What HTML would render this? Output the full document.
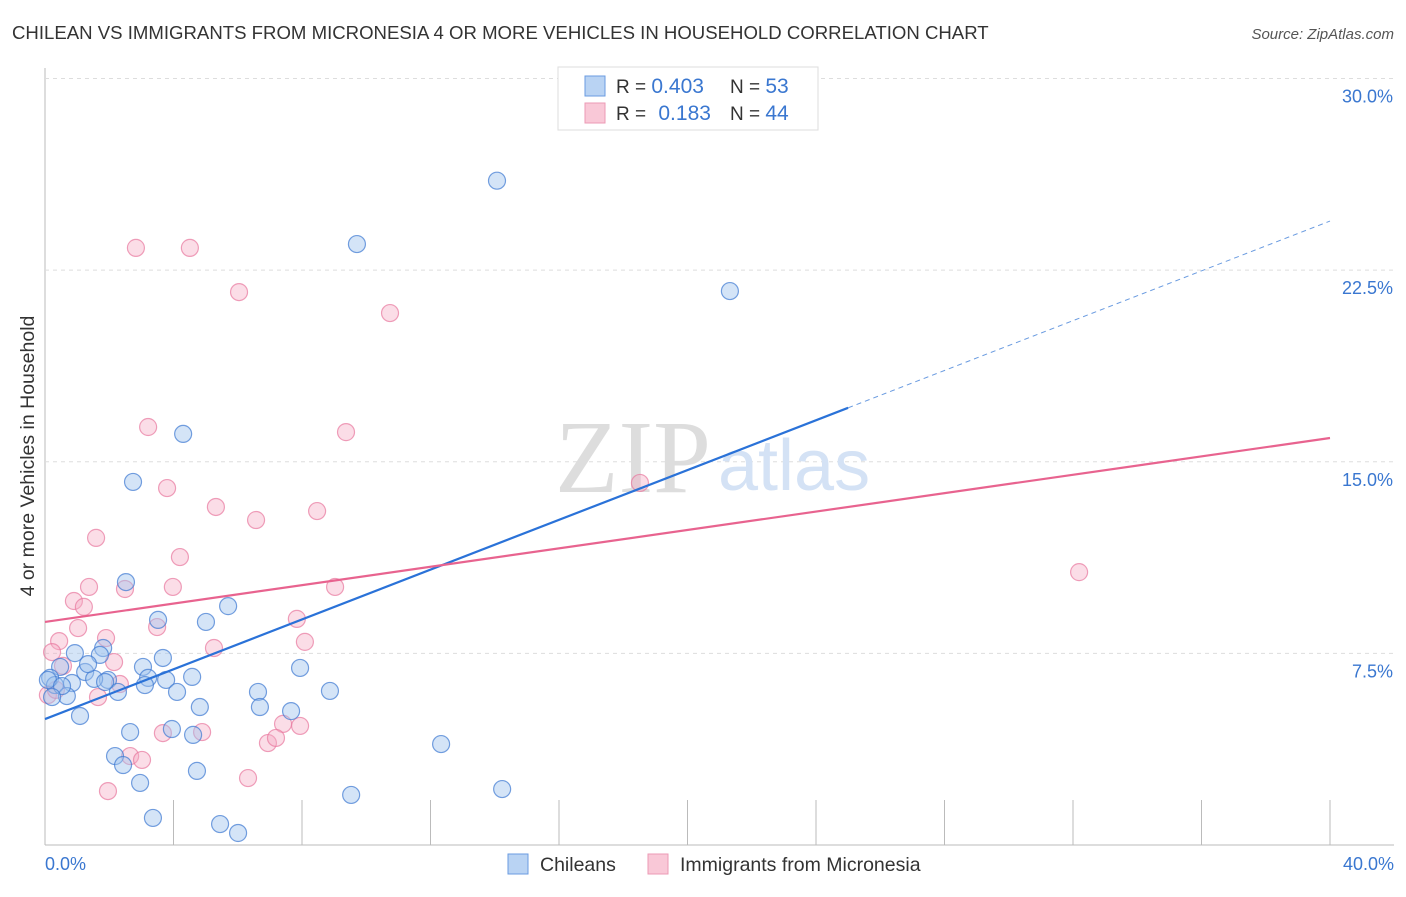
<!DOCTYPE html>
<html><head><meta charset="utf-8"><style>
body{margin:0;background:#fff;font-family:"Liberation Sans",sans-serif;}
</style></head><body>
<svg width="1406" height="892" xmlns="http://www.w3.org/2000/svg">
<text x="12" y="39" font-size="18.6" fill="#333">CHILEAN VS IMMIGRANTS FROM MICRONESIA 4 OR MORE VEHICLES IN HOUSEHOLD CORRELATION CHART</text>
<text x="1394" y="39" font-size="15" fill="#555" font-style="italic" text-anchor="end">Source: ZipAtlas.com</text>
<g id="grid"></g>
<text x="555" y="492" font-size="104" fill="#ddd" font-family="Liberation Serif,serif">ZIP</text>
<text x="718" y="490" font-size="72" fill="#d4e2f5">atlas</text>
<g id="pts"></g>
<g id="lines"></g>
<text x="34" y="456" font-size="19.5" fill="#333" text-anchor="middle" transform="rotate(-90 34 456)">4 or more Vehicles in Household</text>
<g>
<rect x="558" y="67" width="260" height="63" fill="#fff" stroke="#ddd"/>
<rect x="585" y="76" width="20" height="20" fill="#b9d3f3" stroke="#6a9be0"/>
<rect x="585" y="103" width="20" height="20" fill="#f9c8d7" stroke="#ec9ab4"/>
<text x="616" y="93" font-size="19" fill="#333">R = <tspan fill="#3a77d0" font-size="21">0.403</tspan></text>
<text x="730" y="93" font-size="19" fill="#333">N = <tspan fill="#3a77d0" font-size="21">53</tspan></text>
<text x="616" y="120" font-size="19" fill="#333">R = <tspan fill="#3a77d0" dx="7" font-size="21">0.183</tspan></text>
<text x="730" y="120" font-size="19" fill="#333">N = <tspan fill="#3a77d0" font-size="21">44</tspan></text>
</g>
<g>
<rect x="508" y="854" width="20" height="20" fill="#b9d3f3" stroke="#6a9be0"/>
<text x="540" y="871" font-size="19.5" fill="#333">Chileans</text>
<rect x="648" y="854" width="20" height="20" fill="#f9c8d7" stroke="#ec9ab4"/>
<text x="680" y="871" font-size="19.5" fill="#333">Immigrants from Micronesia</text>
</g>
</svg>
<script>
const chileX=[14.07,9.71,21.32,4.30,2.74,2.52,5.70,3.52,5.01,1.81,0.93,1.71,3.67,3.05,7.94,0.47,1.25,0.16,1.96,3.21,4.58,3.77,0.84,1.53,0.31,3.11,2.27,4.11,6.63,8.87,0.68,4.82,6.69,7.66,1.09,3.95,2.65,4.61,12.33,2.18,2.43,4.73,2.96,14.23,9.53,3.36,5.45,6.01,0.09,0.53,1.87,0.22,1.34];
const chileY=[26.00,23.52,21.68,16.09,14.21,10.29,9.35,8.81,8.73,7.71,7.51,7.44,7.32,6.97,6.93,6.97,6.77,6.54,6.46,6.54,6.58,6.46,6.34,6.50,6.26,6.26,5.99,5.99,5.99,6.03,5.83,5.40,5.40,5.24,5.05,4.54,4.42,4.31,3.95,3.48,3.13,2.90,2.43,2.19,1.96,1.06,0.82,0.47,6.46,6.22,6.38,5.79,7.08];
const micX=[2.83,4.51,6.04,10.74,3.21,9.37,3.80,18.52,5.32,6.57,8.47,1.59,4.20,1.37,3.98,2.49,9.03,0.90,1.21,3.49,1.03,7.84,1.90,0.44,8.09,5.26,0.22,2.15,0.56,2.33,1.65,0.09,3.67,4.89,7.41,7.94,2.65,3.02,6.94,7.19,6.32,1.96,32.19,0.34];
const micY=[23.37,23.37,21.64,20.82,16.36,16.16,13.97,14.17,13.23,12.72,13.07,12.02,11.27,10.10,10.10,10.02,10.10,9.55,9.32,8.53,8.49,8.85,8.10,7.98,7.95,7.71,7.55,7.16,7.01,6.30,5.79,5.87,4.38,4.42,4.74,4.66,3.48,3.33,3.99,4.19,2.62,2.11,10.68,6.07];
const chileTrend=[4.93,24.42]; // value at x=0 and x=40
const micTrend=[8.73,15.93];
const yTicks=[7.5,15,22.5,30];
const yTickLabels=["7.5%","15.0%","22.5%","30.0%"];
const xTicks=[0,4,8,12,16,20,24,28,32,36,40];
const NS="http://www.w3.org/2000/svg";
const X=v=>45+v*32.125, Y=v=>845-v*25.55;
function mk(t,a,p){const e=document.createElementNS(NS,t);for(const k in a)e.setAttribute(k,a[k]);p.appendChild(e);return e;}
const svg=document.querySelector('svg'),grid=document.getElementById('grid'),pts=document.getElementById('pts'),lines=document.getElementById('lines');
mk('line',{x1:45,y1:68,x2:45,y2:845,stroke:'#bbb'},grid);
mk('line',{x1:45,y1:845,x2:1394,y2:845,stroke:'#bbb'},grid);
yTicks.forEach((t,i)=>{
 const g=mk('line',{x1:45,y1:Y(t),x2:1394,y2:Y(t),stroke:'#ddd','stroke-dasharray':'4,4'},grid);
 
 
 const tx=mk('text',{x:1393,y:Y(t)+24,'font-size':18,fill:'#3a77d0','text-anchor':'end'},grid);
 tx.textContent=yTickLabels[i];
 
 
});
xTicks.forEach(t=>{
 const l=mk('line',{x1:X(t),y1:800,x2:X(t),y2:845,stroke:'#bbb'},grid);
 
 
});
const xl=mk('text',{x:45,y:870,'font-size':18,fill:'#3a77d0'},grid);xl.textContent='0.0%';


const xr=mk('text',{x:1394,y:870,'font-size':18,fill:'#3a77d0','text-anchor':'end'},grid);xr.textContent='40.0%';


micX.forEach((v,i)=>{
 const c=mk('circle',{cx:X(v),cy:Y(micY[i]),r:8.5,fill:'rgba(246,170,195,0.4)',stroke:'rgba(232,120,158,0.7)','stroke-width':1.2},pts);
 
 
});
chileX.forEach((v,i)=>{
 const c=mk('circle',{cx:X(v),cy:Y(chileY[i]),r:8.5,fill:'rgba(160,196,238,0.45)',stroke:'rgba(60,120,210,0.7)','stroke-width':1.2},pts);
 
 
});
const cy=x=>chileTrend[0]+(chileTrend[1]-chileTrend[0])*x/40;
const l1=mk('line',{x1:X(0),y1:Y(cy(0)),x2:X(25),y2:Y(cy(25)),stroke:'#2a72d8','stroke-width':2.2},lines);


const l2=mk('line',{x1:X(25),y1:Y(cy(25)),x2:X(40),y2:Y(cy(40)),stroke:'#6a9be0','stroke-width':1,'stroke-dasharray':'5,4'},lines);


const l3=mk('line',{x1:X(0),y1:Y(micTrend[0]),x2:X(40),y2:Y(micTrend[1]),stroke:'#e8638f','stroke-width':2.2},lines);


</script>
</body></html>
